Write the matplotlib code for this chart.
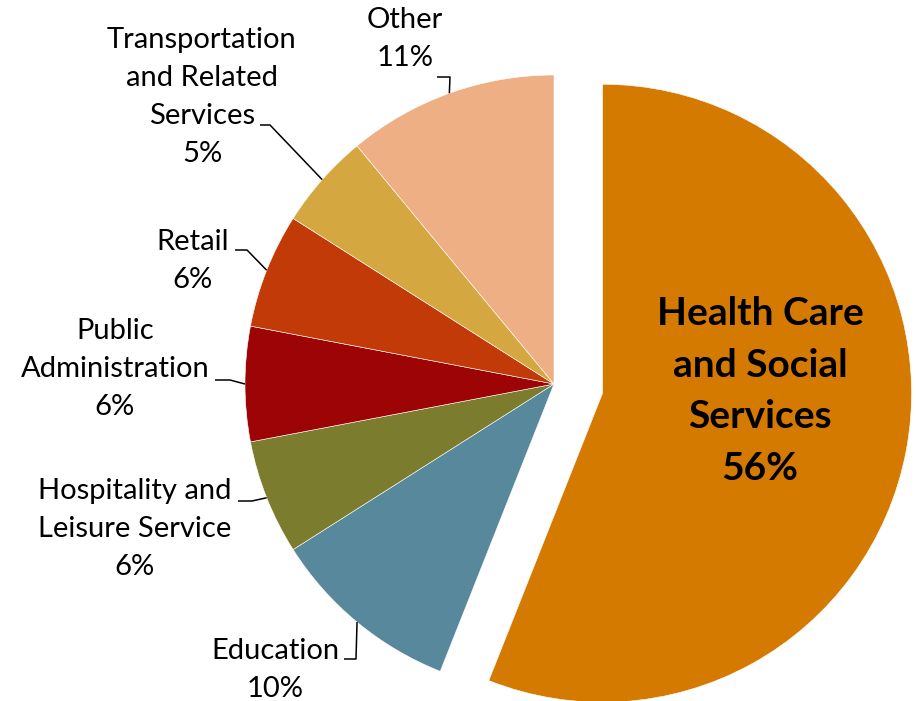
import matplotlib
matplotlib.use("Agg")
import matplotlib.pyplot as plt
import numpy as np

# ---- data ----
categories = ["Health Care\nand Social\nServices", "Education",
              "Hospitality and\nLeisure Service", "Public\nAdministration",
              "Retail", "Transportation\nand Related\nServices", "Other"]
values = [56, 10, 6, 6, 6, 5, 11]
colors = ["#D47A00", "#58889C", "#7B7C2E", "#9C0406", "#C23A07", "#D5A741", "#EFAF85"]
explode = [0.16, 0, 0, 0, 0, 0, 0]

W, H = 916, 701
CX, CY, R = 554, 384, 309  # pie centre / radius in pixels (layout)

def px(x, y):
    return (x - CX) / R, (CY - y) / R

fig = plt.figure(figsize=(W / 100, H / 100), dpi=100)
ax = fig.add_axes([0, 0, 1, 1])
wedges, _ = ax.pie(values, colors=colors, explode=explode, startangle=90,
                   counterclock=False, radius=1.0,
                   wedgeprops=dict(edgecolor="white", linewidth=0.4))
ax.set_xlim(px(0, 0)[0], px(W, 0)[0])
ax.set_ylim(px(0, H)[1], px(0, 0)[1])
ax.set_aspect("equal")
ax.axis("off")

FONT = "Lato"
FS = 21

# label layout: (text centre px, elbow px, line end px) for each non-exploded slice
layout = {
    1: ((275, 670), (356, 659), (344, 659)),
    2: ((135, 529), (252, 501), (238, 501)),
    3: ((115, 369), (230, 380), (215, 380)),
    4: ((193, 261), (247, 250), (235, 250)),
    5: ((202, 97), (270, 125), (260, 125)),
    6: ((405, 39), (450, 77), (437, 77)),
}

for i, (tc, elbow, end) in layout.items():
    w = wedges[i]
    mid = np.deg2rad((w.theta1 + w.theta2) / 2)
    ex, ey = np.cos(mid) * w.r + w.center[0], np.sin(mid) * w.r + w.center[1]
    e1 = px(*elbow)
    e2 = px(*end)
    ax.plot([ex, e1[0], e2[0]], [ey, e1[1], e2[1]], color="black", lw=1.1,
            solid_capstyle="butt", zorder=3)
    label = f"{categories[i]}\n{values[i]}%"
    ax.text(*px(*tc), label, ha="center", va="center", fontsize=FS,
            family=FONT, linespacing=1.56, color="black")

ax.text(*px(760, 391), f"{categories[0]}\n{values[0]}%", ha="center", va="center",
        fontsize=28, fontweight="bold", family=FONT, linespacing=1.58, color="black")

fig.savefig("out.png", dpi=100)
